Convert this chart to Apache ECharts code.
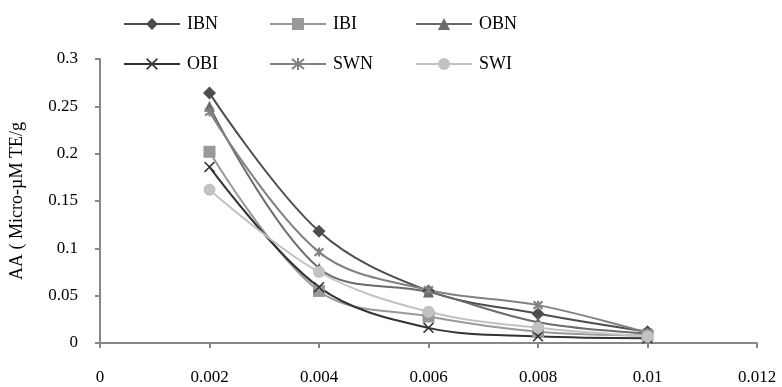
<!DOCTYPE html>
<html>
<head>
<meta charset="utf-8">
<script src="https://cdn.jsdelivr.net/npm/echarts@6/dist/echarts.min.js"></script>
<style>
  html, body { margin: 0; padding: 0; background: #fff; }
  #chart { width: 782px; height: 387px; }
</style>
</head>
<body>
<div id="chart"></div>
<script>
// concentration (x) and AA values per sample
var xValues = [0.002, 0.004, 0.006, 0.008, 0.01];
var IBN = [0.264, 0.118, 0.055, 0.031, 0.012];
var IBI = [0.202, 0.055, 0.028, 0.012, 0.008];
var OBN = [0.250, 0.079, 0.054, 0.022, 0.010];
var OBI = [0.186, 0.059, 0.016, 0.007, 0.005];
var SWN = [0.244, 0.096, 0.056, 0.040, 0.011];
var SWI = [0.162, 0.075, 0.033, 0.016, 0.007];
var names = ['IBN', 'IBI', 'OBN', 'OBI', 'SWN', 'SWI'];

var xMark = 'path://M0,1L1,0L5,4L9,0L10,1L6,5L10,9L9,10L5,6L1,10L0,9L4,5Z';
var starMark = 'path://M0,0L10,10M10,0L0,10M5,-1L5,11';

function pairs(vals){
  var out = [];
  for(var i=0;i<vals.length;i++){
    out.push([xValues[i], vals[i]]);
  }
  return out;
}

function makeSeries(name, vals, color, symbol, size, stroke){
  var s = {
    name: name,
    type: 'line',
    smooth: 0.35,
    data: pairs(vals),
    symbol: symbol,
    symbolSize: size,
    lineStyle: {color: color, width: 2},
    itemStyle: {color: color}
  };
  if(stroke){
    s.itemStyle.borderColor = color;
    s.itemStyle.borderWidth = 2;
  }
  return s;
}

var font = 'Liberation Serif';

// one legend per entry so the columns line up like the original
var legends = [];
for(var i=0;i<names.length;i++){
  legends.push({
    left: 118 + (i % 3) * 146,
    top: i < 3 ? 10 : 50,
    itemWidth: 56, itemHeight: 15, itemGap: 0,
    textStyle: {fontFamily: font, fontSize: 18, color: '#000', padding: [0, 0, 0, 2]},
    data: [names[i]]
  });
}

var chart = echarts.init(document.getElementById('chart'));
var option = {
  animation: false,
  backgroundColor: '#ffffff',
  legend: legends,
  grid: {left: 100, right: 25, top: 59, bottom: 44, containLabel: false, outerBoundsMode: 'none'},
  xAxis: {
    type: 'value',
    min: 0, max: 0.012, interval: 0.002,
    splitLine: {show: false},
    axisLine: {lineStyle: {color: '#878787', width: 2}},
    axisTick: {show: true, inside: false, length: 5, lineStyle: {color: '#878787', width: 2}},
    axisLabel: {
      margin: 26, color: '#000', fontFamily: font, fontSize: 17,
      formatter: function(v){ return String(+v.toFixed(3)); }
    }
  },
  yAxis: {
    type: 'value',
    min: 0, max: 0.3, interval: 0.05,
    name: 'AA ( Micro-\u00b5M TE/g',
    nameLocation: 'middle',
    nameRotate: 90,
    nameGap: 74,
    nameTextStyle: {fontFamily: font, fontSize: 18, color: '#000'},
    splitLine: {show: false},
    axisLine: {show: true, lineStyle: {color: '#878787', width: 2}},
    axisTick: {show: true, inside: false, length: 5, lineStyle: {color: '#878787', width: 2}},
    axisLabel: {
      margin: 22, color: '#000', fontFamily: font, fontSize: 17,
      formatter: function(v){ return String(+v.toFixed(2)); }
    }
  },
  series: [
    makeSeries('IBN', IBN, '#4d4d4d', 'diamond', 13, false),
    makeSeries('IBI', IBI, '#999999', 'rect', 12, false),
    makeSeries('OBN', OBN, '#6b6b6b', 'triangle', 11, false),
    makeSeries('OBI', OBI, '#333333', xMark, 11, false),
    makeSeries('SWN', SWN, '#828282', starMark, 9, true),
    makeSeries('SWI', SWI, '#c2c2c2', 'circle', 12, false)
  ]
};
chart.setOption(option);
</script>
</body>
</html>
